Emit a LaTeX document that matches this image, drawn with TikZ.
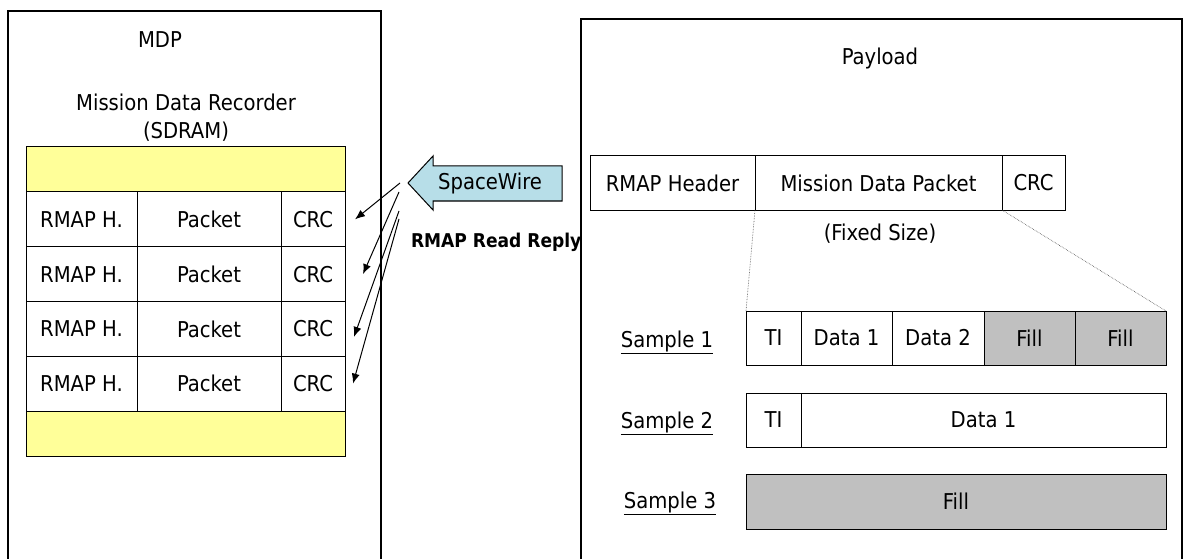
\documentclass[tikz,border=0pt]{standalone}
\usepackage{fontspec}
\setmainfont{DejaVu Sans Condensed}
\usetikzlibrary{arrows.meta}
\definecolor{memyellow}{RGB}{255,255,153}
\definecolor{fillgray}{RGB}{192,192,192}
\definecolor{wireblue}{RGB}{183,222,232}
\tikzset{
  txt/.style={inner sep=0pt, outer sep=0pt, font=\fontsize{21.8}{28}\selectfont},
  cell/.style={txt, draw, line width=1pt, minimum height=54.75pt},
  memfill/.style={draw, line width=1pt, outer sep=0pt, fill=memyellow, minimum width=319pt, minimum height=45pt, inner sep=0pt},
  grayfill/.style={fill=fillgray},
  frame/.style={line width=2pt},
  conn/.style={line width=1pt, -{Latex[length=10pt,width=8pt]}},
  zoomline/.style={densely dotted, line width=0.6pt, black!70}
}
\begin{document}
\begin{tikzpicture}[x=1pt,y=-1pt]
\clip (0,0) rectangle (1184,559);
% MDP side
\draw[frame] (8,11) rectangle (381,600);
\node[txt] (mdp) at (160,40) {MDP};
\node[txt, align=center] (mdr) at (186,118) {Mission Data Recorder\\(SDRAM)};
\node[memfill, anchor=north west] (memtop) at (26,147) {};
\foreach \i in {1,...,4}{
  \node[cell, minimum width=111pt, anchor=north west] (hdr\i) at (26,{192+54.75*(\i-1)}) {RMAP H.};
  \node[cell, minimum width=144pt, anchor=west] (pkt\i) at (hdr\i.east) {Packet};
  \node[cell, minimum width=64pt, anchor=west] (crc\i) at (pkt\i.east) {CRC};
}
\node[memfill, anchor=north west] (membot) at (hdr4.south west) {};
% SpaceWire link
\draw[line width=1pt, fill=wireblue] (408,183) -- (433,156) -- (433,166) -- (562,166)
  -- (562,201) -- (433,201) -- (433,210) -- cycle;
\node[txt] (sw) at (490,183) {SpaceWire};
\node[txt, font=\fontsize{19}{22}\selectfont\bfseries, anchor=west] (reply) at (411,242) {RMAP Read Reply};
\coordinate (o1) at (400,183);
\coordinate (o2) at (399,192);
\coordinate (o3) at (399,211);
\coordinate (o4) at (399,219);
\draw[conn] (o1) -- ([xshift=10pt]crc1.east);
\draw[conn] (o2) -- ([xshift=18pt]crc2.east);
\draw[conn] (o3) -- ([shift={(9pt,-8pt)}]crc3.east);
\draw[conn] (o4) -- ([xshift=8pt]crc4.east);
% Payload side
\draw[frame] (581,19) rectangle (1182,600);
\node[txt] (pl) at (880,58) {Payload};
\node[cell, minimum width=165pt, minimum height=54pt, anchor=north west] (rhdr) at (590,156) {RMAP Header};
\node[cell, minimum width=247pt, minimum height=54pt, anchor=west] (mdpk) at (rhdr.east) {Mission Data Packet};
\node[cell, minimum width=63pt, minimum height=54pt, anchor=west] (rcrc) at (mdpk.east) {CRC};
\node[txt] (fixed) at (880,234) {(Fixed Size)};
% samples
\node[cell, minimum width=55pt, minimum height=54pt, anchor=north west] (ti1) at (746,311) {TI};
\node[cell, minimum width=91pt, minimum height=54pt, anchor=west] (da1) at (ti1.east) {Data 1};
\node[cell, minimum width=92pt, minimum height=54pt, anchor=west] (db1) at (da1.east) {Data 2};
\node[cell, grayfill, minimum width=91pt, minimum height=54pt, anchor=west] (fa1) at (db1.east) {Fill};
\node[cell, grayfill, minimum width=91pt, minimum height=54pt, anchor=west] (fb1) at (fa1.east) {Fill};
\node[cell, minimum width=55pt, minimum height=54pt, anchor=north west] (ti2) at (746,393) {TI};
\node[cell, minimum width=365pt, minimum height=54pt, anchor=west] (da2) at (ti2.east) {Data 1};
\node[cell, grayfill, minimum width=420pt, minimum height=55pt, anchor=north west] (fa3) at (746,474) {Fill};
\node[txt] (smp1) at (667,342) {\underline{Sample 1}};
\node[txt] (smp2) at (667,423) {\underline{Sample 2}};
\node[txt] (smp3) at (670,503) {\underline{Sample 3}};
\draw[zoomline] (mdpk.south west) -- (ti1.north west);
\draw[zoomline] (mdpk.south east) -- (fb1.north east);
\end{tikzpicture}
\end{document}
